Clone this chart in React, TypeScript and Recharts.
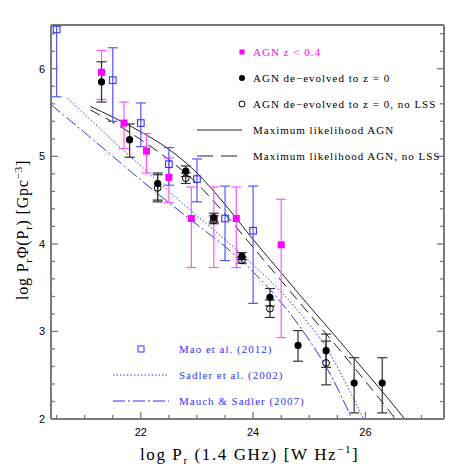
import React from 'react';
import { ComposedChart, Scatter, Line, XAxis, YAxis, ErrorBar } from 'recharts';

// ---------- data ----------
// AGN z < 0.4 (magenta squares)
const magX = [21.3, 21.7, 22.1, 22.5, 22.9, 23.3, 23.7, 24.5];
const magY = [5.96, 5.38, 5.06, 4.76, 4.29, 4.29, 4.29, 3.99];
const magLo = [5.65, 5.09, 4.81, 4.47, 3.73, 3.73, 3.73, 2.93];
const magHi = [6.21, 5.62, 5.26, 4.98, 4.65, 4.65, 4.65, 4.51];

// AGN de-evolved to z = 0 (filled black circles)
const devX = [21.3, 21.8, 22.3, 22.8, 23.3, 23.8, 24.3, 24.8, 25.3, 25.8, 26.3];
const devY = [5.85, 5.19, 4.69, 4.83, 4.30, 3.86, 3.39, 2.84, 2.78, 2.41, 2.41];
const devLo = [5.62, 4.99, 4.50, 4.77, 4.25, 3.82, 3.29, 2.66, 2.59, 2.07, 2.07];
const devHi = [6.08, 5.37, 4.81, 4.89, 4.35, 3.90, 3.49, 3.01, 2.97, 2.70, 2.70];

// AGN de-evolved to z = 0, no LSS (open circles)
const nlX = [22.3, 22.8, 23.3, 23.8, 24.3, 25.3];
const nlY = [4.64, 4.75, 4.27, 3.81, 3.26, 2.64];
const nlLo = [4.48, 4.69, 4.23, 3.78, 3.16, 2.39];
const nlHi = [4.79, 4.81, 4.32, 3.85, 3.36, 2.89];

// Mao et al. (2012) (open blue squares)
const maoX = [20.5, 21.5, 22.0, 22.5, 23.0, 23.5, 24.0];
const maoY = [6.45, 5.87, 5.38, 4.91, 4.74, 4.29, 4.15];
const maoLo = [5.68, 5.40, 5.11, 4.67, 4.48, 3.81, 3.32];
const maoHi = [6.49, 6.24, 5.61, 5.10, 4.97, 4.66, 4.66];

// Maximum likelihood AGN (solid)
const mlX = [21.1, 21.5, 22.0, 22.5, 23.0, 23.5, 24.0, 24.5, 25.0, 25.5, 26.0, 26.5, 26.7];
const mlY = [5.57, 5.45, 5.28, 5.08, 4.81, 4.45, 4.05, 3.67, 3.29, 2.92, 2.54, 2.16, 2.0];

// Maximum likelihood AGN, no LSS (dashed)
const mlnX = [21.1, 21.5, 22.0, 22.5, 23.0, 23.5, 24.0, 24.5, 25.0, 25.5, 26.0, 26.54];
const mlnY = [5.53, 5.39, 5.19, 4.96, 4.69, 4.34, 3.96, 3.58, 3.20, 2.82, 2.43, 2.0];

// Sadler et al. (2002) (dotted)
const sadX = [20.7, 21.0, 21.5, 22.0, 22.5, 23.0, 23.5, 24.0, 24.5, 25.0, 25.3, 25.6, 25.97];
const sadY = [5.66, 5.48, 5.18, 4.89, 4.60, 4.32, 4.05, 3.76, 3.45, 3.08, 2.82, 2.47, 2.0];

// Mauch & Sadler (2007) (dash-dot)
const mauX = [20.4, 21.0, 21.5, 22.0, 22.5, 23.0, 23.5, 24.0, 24.5, 25.0, 25.4, 25.76];
const mauY = [5.59, 5.27, 5.00, 4.73, 4.47, 4.22, 3.97, 3.68, 3.33, 2.90, 2.48, 2.0];

// axes
const xDomain = [20.4, 27.4];
const yDomain = [2, 6.5];
const xTicks = [20.5, 21, 21.5, 22, 22.5, 23, 23.5, 24, 24.5, 25, 25.5, 26, 26.5, 27];
const xMajor = [22, 24, 26];
const yTicks = [2, 2.2, 2.4, 2.6, 2.8, 3, 3.2, 3.4, 3.6, 3.8, 4, 4.2, 4.4, 4.6, 4.8, 5, 5.2, 5.4, 5.6, 5.8, 6, 6.2, 6.4];
const yMajor = [2, 3, 4, 5, 6];

// ---------- helpers ----------
const pts = (xs: number[], ys: number[], lo: number[], hi: number[]) =>
  xs.map((x, i) => ({ x, y: ys[i], err: [ys[i] - lo[i], hi[i] - ys[i]] }));
const line = (xs: number[], ys: number[]) => xs.map((x, i) => ({ x, y: ys[i] }));
const isMajor = (v: number, arr: number[]) => arr.some((m) => Math.abs(m - v) < 1e-6);

const AX = '#7a7a7a';
const MAG = '#ff00ff';
const BLUE = '#3333ff';
const SANS = 'Liberation Sans, Arial, sans-serif';
const SERIF = 'Liberation Serif, Times New Roman, serif';

const BottomTick = (p: any) => {
  const { x, y, payload } = p;
  const maj = isMajor(payload.value, xMajor);
  return (
    <g>
      <line x1={x} x2={x} y1={y} y2={y - (maj ? 7 : 4)} stroke={AX} strokeWidth={1.3} />
      {maj && (
        <text x={x} y={y + 17} textAnchor="middle" fontSize={11} fontFamily={SANS} fill="#000">
          {payload.value}
        </text>
      )}
    </g>
  );
};
const TopTick = (p: any) => {
  const { x, y, payload } = p;
  const maj = isMajor(payload.value, xMajor);
  return <line x1={x} x2={x} y1={y} y2={y + (maj ? 7 : 4)} stroke={AX} strokeWidth={1.3} />;
};
const LeftTick = (p: any) => {
  const { x, y, payload } = p;
  const maj = isMajor(payload.value, yMajor);
  return (
    <g>
      <line x1={x} x2={x + (maj ? 7 : 4)} y1={y} y2={y} stroke={AX} strokeWidth={1.3} />
      {maj && (
        <text x={x - 6} y={y + 4} textAnchor="end" fontSize={11} fontFamily={SANS} fill="#000">
          {payload.value}
        </text>
      )}
    </g>
  );
};
const RightTick = (p: any) => {
  const { x, y, payload } = p;
  const maj = isMajor(payload.value, yMajor);
  return <line x1={x} x2={x - (maj ? 7 : 4)} y1={y} y2={y} stroke={AX} strokeWidth={1.3} />;
};

const MagSquare = (p: any) => <rect x={p.cx - 3.5} y={p.cy - 3.5} width={7} height={7} fill={MAG} />;
const BlueSquare = (p: any) => (
  <rect x={p.cx - 3.3} y={p.cy - 3.3} width={6.6} height={6.6} fill="none" stroke={BLUE} strokeWidth={1.1} />
);
const FilledCircle = (p: any) => <circle cx={p.cx} cy={p.cy} r={3.6} fill="#000" />;
const OpenCircle = (p: any) => <circle cx={p.cx} cy={p.cy} r={3.4} fill="none" stroke="#000" strokeWidth={1} />;

export default function App() {
  const legendFont = { fontFamily: SERIF, fontSize: 11, letterSpacing: 1 } as const;
  return (
    <div style={{ position: 'absolute', left: 0, top: 0, width: 469, height: 469, background: '#fff' }}>
      <ComposedChart width={469} height={469} margin={{ top: 24, right: 24, bottom: 20, left: 11 }}>
        <XAxis
          dataKey="x"
          type="number"
          domain={xDomain}
          allowDataOverflow
          ticks={xTicks}
          interval={0}
          tickSize={0}
          tickMargin={0}
          tickLine={false}
          tick={BottomTick}
          height={30}
          axisLine={{ stroke: AX, strokeWidth: 2 }}
        />
        <XAxis
          xAxisId="top"
          orientation="top"
          type="number"
          domain={xDomain}
          allowDataOverflow
          ticks={xTicks}
          interval={0}
          tickSize={0}
          tickMargin={0}
          tickLine={false}
          tick={TopTick}
          height={1}
          axisLine={{ stroke: AX, strokeWidth: 2 }}
        />
        <YAxis
          dataKey="y"
          type="number"
          domain={yDomain}
          allowDataOverflow
          ticks={yTicks}
          interval={0}
          tickSize={0}
          tickMargin={0}
          tickLine={false}
          tick={LeftTick}
          width={40}
          axisLine={{ stroke: AX, strokeWidth: 2 }}
        />
        <YAxis
          yAxisId="right"
          orientation="right"
          type="number"
          domain={yDomain}
          allowDataOverflow
          ticks={yTicks}
          interval={0}
          tickSize={0}
          tickMargin={0}
          tickLine={false}
          tick={RightTick}
          width={1}
          axisLine={{ stroke: AX, strokeWidth: 2 }}
        />

        <Line data={line(mauX, mauY)} dataKey="y" type="monotone" dot={false} stroke={BLUE} strokeWidth={1} strokeDasharray="12 3 2 3" isAnimationActive={false} />
        <Line data={line(sadX, sadY)} dataKey="y" type="monotone" dot={false} stroke={BLUE} strokeWidth={1} strokeDasharray="1.5 2" isAnimationActive={false} />
        <Line data={line(mlX, mlY)} dataKey="y" type="monotone" dot={false} stroke="#222" strokeWidth={1} isAnimationActive={false} />
        <Line data={line(mlnX, mlnY)} dataKey="y" type="monotone" dot={false} stroke="#222" strokeWidth={1} strokeDasharray="11 6" isAnimationActive={false} />

        <Scatter data={pts(magX, magY, magLo, magHi)} shape={MagSquare} isAnimationActive={false}>
          <ErrorBar dataKey="err" direction="y" width={5} stroke="#ff55ff" strokeWidth={1.2} />
        </Scatter>
        <Scatter data={pts(maoX, maoY, maoLo, maoHi)} shape={BlueSquare} isAnimationActive={false}>
          <ErrorBar dataKey="err" direction="y" width={5} stroke="#5555ff" strokeWidth={1.2} />
        </Scatter>
        <Scatter data={pts(nlX, nlY, nlLo, nlHi)} shape={OpenCircle} isAnimationActive={false}>
          <ErrorBar dataKey="err" direction="y" width={5} stroke="#333" strokeWidth={1.2} />
        </Scatter>
        <Scatter data={pts(devX, devY, devLo, devHi)} shape={FilledCircle} isAnimationActive={false}>
          <ErrorBar dataKey="err" direction="y" width={5} stroke="#333" strokeWidth={1.2} />
        </Scatter>
      </ComposedChart>

      <svg width={469} height={469} style={{ position: 'absolute', left: 0, top: 0, pointerEvents: 'none' }}>
        {/* upper legend */}
        <rect x={239.5} y={49.5} width={5} height={5} fill={MAG} />
        <text x={253} y={56} fill={MAG} {...legendFont}>AGN z &lt; 0.4</text>
        <circle cx={242} cy={78} r={3} fill="#000" />
        <text x={253} y={82} fill="#000" {...legendFont}>AGN de−evolved to z = 0</text>
        <circle cx={242} cy={104} r={3} fill="none" stroke="#000" strokeWidth={1} />
        <text x={253} y={108} fill="#000" {...legendFont}>AGN de−evolved to z = 0, no LSS</text>
        <line x1={197} x2={242} y1={130} y2={130} stroke="#222" strokeWidth={1} />
        <text x={253} y={134} fill="#000" {...legendFont}>Maximum likelihood AGN</text>
        <line x1={197} x2={242} y1={156} y2={156} stroke="#222" strokeWidth={1} strokeDasharray="16 8" />
        <text x={253} y={160} fill="#000" {...legendFont}>Maximum likelihood AGN, no LSS</text>

        {/* lower legend */}
        <rect x={138} y={346} width={6} height={6} fill="none" stroke={BLUE} strokeWidth={1} />
        <text x={179} y={353} fill={BLUE} {...legendFont}>Mao et al. (2012)</text>
        <line x1={113} x2={167} y1={375} y2={375} stroke={BLUE} strokeWidth={1} strokeDasharray="1.5 2" />
        <text x={179} y={379} fill={BLUE} {...legendFont}>Sadler et al. (2002)</text>
        <line x1={113} x2={169} y1={401} y2={401} stroke={BLUE} strokeWidth={1} strokeDasharray="12 3 2 3" />
        <text x={179} y={405} fill={BLUE} {...legendFont}>Mauch &amp; Sadler (2007)</text>

        {/* axis titles */}
        <text x={140} y={460} fontFamily={SERIF} fontSize={17} letterSpacing={1.6} fill="#000">
          log P<tspan dy={4} fontSize={11}>r</tspan>
          <tspan dy={-4}> (1.4 GHz) [W Hz</tspan>
          <tspan dy={-7} fontSize={11}>−1</tspan>
          <tspan dy={7}>]</tspan>
        </text>
        <text transform="translate(28,300) rotate(-90)" fontFamily={SERIF} fontSize={16} letterSpacing={0.8} fill="#000">
          log P<tspan dy={4} fontSize={11}>r</tspan>
          <tspan dy={-4}>Φ(P</tspan>
          <tspan dy={4} fontSize={11}>r</tspan>
          <tspan dy={-4}>) [Gpc</tspan>
          <tspan dy={-6} fontSize={11}>−3</tspan>
          <tspan dy={6}>]</tspan>
        </text>
      </svg>
    </div>
  );
}
